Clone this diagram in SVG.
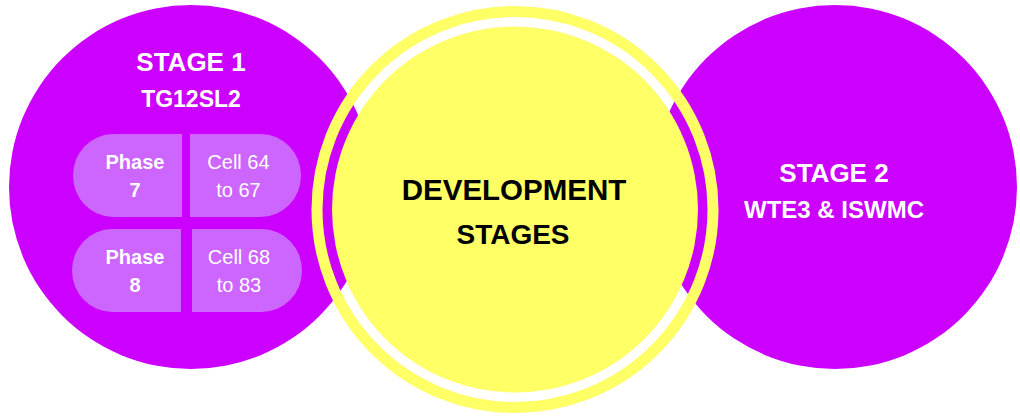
<svg xmlns="http://www.w3.org/2000/svg" width="1020" height="417" viewBox="0 0 1020 417">
<style>
.stage{fill:#CC00FF}
.cap{fill:#CC66FF}
.w{fill:#FFFFFF;font-family:"Liberation Sans",Arial,sans-serif;text-anchor:middle}
.b{font-weight:bold}
.k{fill:#000000;font-family:"Liberation Sans",Arial,sans-serif;font-weight:bold;text-anchor:middle}
</style>
<rect width="1020" height="417" fill="#FFFFFF"/>
<g id="stage1">
<circle class="stage" cx="191" cy="187" r="182"/>
<text class="w b" x="191" y="71" font-size="26">STAGE 1</text>
<text class="w b" x="191" y="107" font-size="23">TG12SL2</text>
</g>
<g id="stage2">
<circle class="stage" cx="835" cy="187" r="182"/>
<text class="w b" x="834" y="181.5" font-size="26">STAGE 2</text>
<text class="w b" x="834" y="218" font-size="24">WTE3 &amp; ISWMC</text>
</g>
<g id="phase7">
<path class="cap" d="M182 134 V217 H113 A40 41.5 0 0 1 113 134 Z"/>
<text class="w b" x="135" y="169" font-size="20">Phase</text>
<text class="w b" x="135" y="197" font-size="20">7</text>
</g>
<g id="cells64">
<path class="cap" d="M190 134 H261 A40 41.5 0 0 1 261 217 H190 Z"/>
<text class="w" x="238.5" y="169" font-size="20">Cell 64</text>
<text class="w" x="238.5" y="197" font-size="20">to 67</text>
</g>
<g id="phase8">
<path class="cap" d="M181 229 V312 H112 A40 41.5 0 0 1 112 229 Z"/>
<text class="w b" x="135" y="264" font-size="20">Phase</text>
<text class="w b" x="135" y="292" font-size="20">8</text>
</g>
<g id="cells68">
<path class="cap" d="M192 229 H262 A40 41.5 0 0 1 262 312 H192 Z"/>
<text class="w" x="239" y="264" font-size="20">Cell 68</text>
<text class="w" x="239" y="292" font-size="20">to 83</text>
</g>
<g id="development">
<circle cx="515" cy="209.5" r="198" fill="none" stroke="#FFFF66" stroke-width="11"/>
<circle cx="515" cy="209.5" r="183" fill="#FFFF66"/>
<text class="k" x="514" y="200" font-size="29.5">DEVELOPMENT</text>
<text class="k" x="513" y="244" font-size="28">STAGES</text>
</g>
<g id="connectors"></g>
</svg>
